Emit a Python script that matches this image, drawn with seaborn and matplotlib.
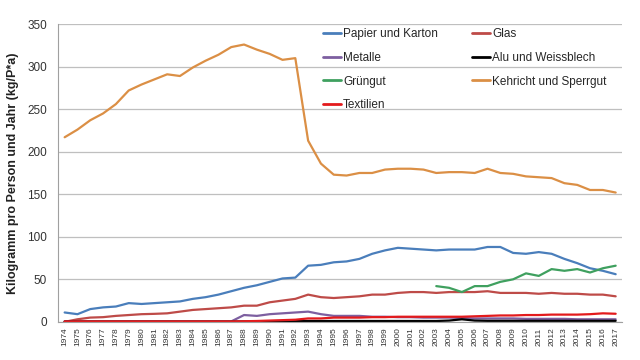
import numpy as np
import pandas as pd
import matplotlib
matplotlib.use("Agg")
import matplotlib.pyplot as plt
import seaborn as sns

years = list(range(1974, 2018))

papier = [11, 9, 15, 17, 18, 22, 21, 22, 23, 24, 27, 29, 32, 36, 40, 43, 47, 51, 52,
          66, 67, 70, 71, 74, 80, 84, 87, 86, 85, 84, 85, 85, 85, 88, 88, 81, 80, 82, 80,
          74, 69, 63, 60, 56]
glas = [0, 3, 5, 5.5, 7, 8, 9, 9.4, 10, 12, 14, 15, 16, 17, 19, 19, 23, 25, 27,
        32, 29, 28, 29, 30, 32, 32, 34, 35, 35, 34, 35, 35, 35, 36, 34, 34, 34, 33, 34,
        33, 33, 32, 32, 30]
metalle = [0.5, 0.5, 0.5, 0.5, 0.5, 0.5, 0.5, 0.5, 0.5, 0.5, 0.5, 0.5, 0.5, 0.5, 8, 7, 9, 10, 11,
           12, 9, 7, 7, 7, 6, 6, 5.5, 5.5, 5, 5, 5, 4.5, 4, 4, 4, 4, 3.5, 3.5, 3.5,
           3.5, 3, 3, 3, 3]
alu = [0.3, 0.3, 0.3, 0.3, 0.3, 0.3, 0.3, 0.3, 0.3, 0.3, 0.3, 0.3, 0.3, 0.3, 0.5, 0.5, 0.5, 0.5, 0.8,
       1, 1, 1, 1, 1, 1, 1, 1, 1, 1, 1, 1.5, 3, 1.5, 1.2, 1.2, 1.2, 1.2, 1.2, 1.2,
       1.2, 1.2, 1.2, 1.2, 1.2]
gruengut = [np.nan] * 29 + [42, 40, 35, 42, 42, 47, 50, 57, 54, 62, 60, 62, 58, 63, 66]
kehricht = [217, 226, 237, 245, 256, 272, 279, 285, 291, 289, 299, 307, 314, 323, 326,
            320, 315, 308, 310, 213, 186, 173, 172, 175, 175, 179, 180, 180, 179, 175,
            176, 176, 175, 180, 175, 174, 171, 170, 169, 163, 161, 155, 155, 152]
textilien = [0.5, 0.5, 0.5, 0.5, 0.5, 0.5, 0.5, 0.5, 0.5, 0.5, 0.5, 0.5, 0.5, 0.5, 0.7, 1, 1.5, 2, 2.5,
             4, 4, 5, 5, 5, 5.5, 5.5, 6, 6, 6, 6, 6, 6, 6.5, 7, 7.5, 7.5, 8, 8, 8.5,
             8.5, 8.5, 9, 10, 9.5]

series = {
    "Papier und Karton": papier,
    "Glas": glas,
    "Metalle": metalle,
    "Alu und Weissblech": alu,
    "Grüngut": gruengut,
    "Kehricht und Sperrgut": kehricht,
    "Textilien": textilien,
}
colors = {
    "Papier und Karton": "#4A7EBB",
    "Glas": "#BE4B48",
    "Metalle": "#7D5FA0",
    "Alu und Weissblech": "#000000",
    "Grüngut": "#3FA05F",
    "Kehricht und Sperrgut": "#DB8F45",
    "Textilien": "#E31A1C",
}

rows = []
for name, vals in series.items():
    for i, v in enumerate(vals):
        rows.append({"idx": i, "Jahr": years[i], "Wert": v, "Kategorie": name})
df = pd.DataFrame(rows).dropna()

sns.set_theme(style="white")
plt.rcParams["font.family"] = ["Liberation Sans", "DejaVu Sans"]

fig = plt.figure(figsize=(6.4, 3.6), dpi=100)
ax = fig.add_axes([0.091, 0.106, 0.881, 0.827])

sns.lineplot(data=df, x="idx", y="Wert", hue="Kategorie",
             hue_order=list(series.keys()), palette=colors,
             linewidth=1.6, ax=ax, legend=False)

ax.set_xlim(-0.5, len(years) - 0.5)
ax.set_ylim(0, 350)
ax.set_yticks(range(0, 351, 50))
ax.set_yticklabels([str(v) for v in range(0, 351, 50)], fontsize=8.5, color="#333333")
ax.set_xticks(range(len(years)))
ax.set_xticklabels([str(y) for y in years], rotation=90, fontsize=6, color="#333333")
ax.tick_params(axis="x", length=2, pad=2, color="#888888")
ax.tick_params(axis="y", length=0, pad=8)
ax.yaxis.grid(True, color="#BFBFBF", linewidth=0.9)
ax.xaxis.grid(False)
for s in ["top", "right"]:
    ax.spines[s].set_visible(False)
ax.spines["left"].set_color("#A0A0A0")
ax.spines["bottom"].set_color("#A0A0A0")
ax.spines["left"].set_linewidth(0.8)
ax.spines["bottom"].set_linewidth(0.8)
ax.set_xlabel("")
ax.set_ylabel("Kilogramm pro Person und Jahr (kg/P*a)", fontsize=9, fontweight="bold",
              color="#222222", labelpad=6)

order = ["Papier und Karton", "Metalle", "Grüngut", "Textilien",
         "Glas", "Alu und Weissblech", "Kehricht und Sperrgut"]
handles = [plt.Line2D([0], [0], color=colors[n], linewidth=2) for n in order]
ax.legend(handles, order, ncol=2, frameon=False, fontsize=8.5,
          loc="upper left", bbox_to_anchor=(0.455, 1.015),
          handlelength=1.5, handletextpad=0.2, columnspacing=2.9,
          labelspacing=1.0, borderaxespad=0.3)

fig.savefig("out.png", dpi=100)
